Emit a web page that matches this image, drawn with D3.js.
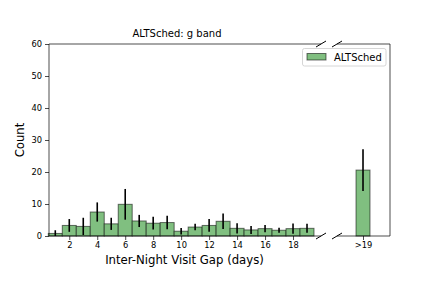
<!DOCTYPE html>
<html>
<head>
<meta charset="utf-8">
<script src="https://cdn.jsdelivr.net/npm/d3@7/dist/d3.min.js"></script>
<style>
  body { margin: 0; background: #fff; }
  svg text { font-family: "DejaVu Sans", sans-serif; fill: #000; }
</style>
</head>
<body>
<div id="chart"></div>
<script>
// gap in days, mean count and error (half height of error bar)
var gapDays = [1, 2, 3, 4, 5, 6, 7, 8, 9, 10, 11, 12, 13, 14, 15, 16, 17, 18, 19];
var gapCounts = [0.8, 3.3, 3.0, 7.5, 3.8, 9.9, 4.7, 4.0, 4.2, 1.5, 2.8, 3.3, 4.6, 2.4, 1.9, 2.3, 1.8, 2.3, 2.4];
var gapErrors = [1.0, 2.0, 2.7, 3.0, 1.9, 4.8, 1.9, 2.0, 2.1, 1.0, 1.0, 2.0, 2.4, 1.6, 1.25, 1.1, 0.75, 1.6, 1.4];
// overflow bin, drawn in its own panel
var tailLabel = ">19";
var tailPos = 20;
var tailCount = 20.6;
var tailError = 6.5;

var xTicks = [2, 4, 6, 8, 10, 12, 14, 16, 18];
var yTicks = [0, 10, 20, 30, 40, 50, 60];

var width = 423, height = 282;
var barFill = "#80bf80", barEdge = "rgba(0,0,0,0.55)";

var svg = d3.select("#chart").append("svg")
    .attr("width", width).attr("height", height);

var y = d3.scaleLinear().domain([0, 60]).range([236, 44]);
var xLeft = d3.scaleLinear().domain([0.55, 20]).range([49, 321]);
var xRight = d3.scaleLinear().domain([18.14, 21.93]).range([337, 390]);
var unit = xLeft(1) - xLeft(0);

function drawBars(g, x, days, counts, errs) {
    g.selectAll("rect").data(days).enter().append("rect")
        .attr("x", function (d) { return x(d - 0.5); })
        .attr("width", unit)
        .attr("y", function (d, i) { return y(counts[i]); })
        .attr("height", function (d, i) { return y(0) - y(counts[i]); })
        .attr("fill", barFill)
        .attr("stroke", barEdge)
        .attr("stroke-width", 1);
    g.selectAll("line.err").data(days).enter().append("line")
        .attr("class", "err")
        .attr("x1", function (d) { return x(d); })
        .attr("x2", function (d) { return x(d); })
        .attr("y1", function (d, i) { return y(Math.max(0, counts[i] - errs[i])); })
        .attr("y2", function (d, i) { return y(counts[i] + errs[i]); })
        .attr("stroke", "#000")
        .attr("stroke-width", 1.6);
}

var gl = svg.append("g");
drawBars(gl, xLeft, gapDays, gapCounts, gapErrors);
var gr = svg.append("g");
drawBars(gr, xRight, [tailPos], [tailCount], [tailError]);

// axes
var yAxis = d3.axisLeft(y).tickValues(yTicks).tickSize(4).tickPadding(3);
var ya = svg.append("g").attr("transform", "translate(" + xLeft.range()[0] + ",0)").call(yAxis);
var xAxisL = d3.axisBottom(xLeft).tickValues(xTicks).tickSize(4).tickPadding(2);
var xa = svg.append("g").attr("transform", "translate(0," + y(0) + ")").call(xAxisL);
var xAxisR = d3.axisBottom(xRight).tickValues([tailPos]).tickFormat(function () { return tailLabel; })
    .tickSize(4).tickPadding(2);
var xr = svg.append("g").attr("transform", "translate(0," + y(0) + ")").call(xAxisR);
[ya, xa, xr].forEach(function (a) {
    a.select(".domain").remove();
    a.selectAll("text").style("font-family", "DejaVu Sans").style("font-size", "8.3px").attr("fill", "#000");
    a.selectAll(".tick line").attr("stroke", "#000").attr("stroke-width", 0.7);
});

// spines
var spine = svg.append("g").attr("stroke", "#000").attr("stroke-width", 0.7).attr("fill", "none");
var L0 = xLeft.range()[0], L1 = xLeft.range()[1], R0 = xRight.range()[0], R1 = xRight.range()[1];
var yT = y.range()[1], yB = y.range()[0];
spine.append("line").attr("x1", L0).attr("x2", L0).attr("y1", yT).attr("y2", yB);
spine.append("line").attr("x1", L0).attr("x2", L1).attr("y1", yT).attr("y2", yT);
spine.append("line").attr("x1", L0).attr("x2", L1).attr("y1", yB).attr("y2", yB);
spine.append("line").attr("x1", R1).attr("x2", R1).attr("y1", yT).attr("y2", yB);
spine.append("line").attr("x1", R0).attr("x2", R1).attr("y1", yT).attr("y2", yT);
spine.append("line").attr("x1", R0).attr("x2", R1).attr("y1", yB).attr("y2", yB);

// break marks
var brk = svg.append("g").attr("stroke", "#000").attr("stroke-width", 1);
[L1, R0].forEach(function (bx) {
    [yT, yB].forEach(function (by) {
        brk.append("line").attr("x1", bx - 5).attr("y1", by + 3).attr("x2", bx + 5).attr("y2", by - 3);
    });
});

// texts
svg.append("text").attr("x", 177).attr("y", 37).attr("text-anchor", "middle")
    .style("font-size", "10px").text("ALTSched: g band");
svg.append("text").attr("x", 184.5).attr("y", 264).attr("text-anchor", "middle")
    .style("font-size", "11.7px").text("Inter-Night Visit Gap (days)");
svg.append("text").attr("transform", "translate(24,140) rotate(-90)").attr("text-anchor", "middle")
    .style("font-size", "11.7px").text("Count");

// legend
var lg = svg.append("g");
lg.append("rect").attr("x", 302.5).attr("y", 48.5).attr("width", 83.5).attr("height", 17.5)
    .attr("rx", 2).attr("fill", "rgba(255,255,255,0.8)").attr("stroke", "#ccc").attr("stroke-width", 0.8);
lg.append("rect").attr("x", 307).attr("y", 53.5).attr("width", 19).attr("height", 6.5)
    .attr("fill", barFill).attr("stroke", barEdge).attr("stroke-width", 1);
lg.append("text").attr("x", 334).attr("y", 61).style("font-size", "10px").text("ALTSched");
</script>
</body>
</html>
